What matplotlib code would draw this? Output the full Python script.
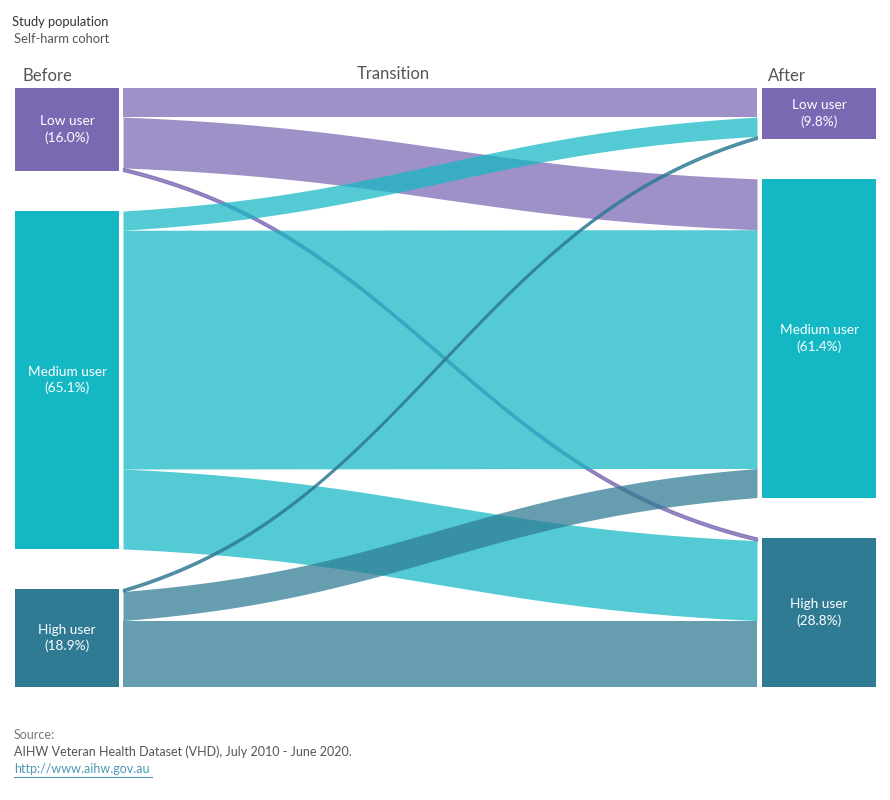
import numpy as np
import matplotlib.pyplot as plt

plt.rcParams['font.family'] = ['Lato', 'DejaVu Sans']

# data (percent of cohort)
groups = ['Low user', 'Medium user', 'High user']
before_pct = [16.0, 65.1, 18.9]
after_pct = [9.8, 61.4, 28.8]
# flows[i][j]: from before group i to after group j
flows = [[5.6, 9.8, 0.6],
         [3.7, 46.0, 15.4],
         [0.5, 5.6, 12.8]]

node_colors = ['#7b68b3', '#14b8c4', '#2e7b93']
alpha_flow = 0.73

# layout in pixels
W, H = 890, 800
top, bottom = 88, 687
gap = 40
px_per_pct = (bottom - top - 2 * gap) / 100.0
lx0, lx1 = 15, 119
fx0, fx1 = 123, 757
rx0, rx1 = 762, 876

fig = plt.figure(figsize=(W / 100, H / 100), dpi=100)
ax = fig.add_axes([0, 0, 1, 1])
ax.set_xlim(0, W)
ax.set_ylim(H, 0)
ax.axis('off')


def node_tops(pcts):
    tops = []
    y = top
    for p in pcts:
        tops.append(y)
        y += p * px_per_pct + gap
    return tops


ltops = node_tops(before_pct)
rtops = node_tops(after_pct)

# nodes
for i, g in enumerate(groups):
    h = before_pct[i] * px_per_pct
    ax.add_patch(plt.Rectangle((lx0, ltops[i]), lx1 - lx0, h, color=node_colors[i], lw=0))
    ax.text((lx0 + lx1) / 2, ltops[i] + h / 2, '%s\n(%.1f%%)' % (g, before_pct[i]),
            ha='center', va='center', color='white', fontsize=9.8, linespacing=1.4)
    h = after_pct[i] * px_per_pct
    ax.add_patch(plt.Rectangle((rx0, rtops[i]), rx1 - rx0, h, color=node_colors[i], lw=0))
    ax.text((rx0 + rx1) / 2, rtops[i] + h / 2, '%s\n(%.1f%%)' % (g, after_pct[i]),
            ha='center', va='center', color='white', fontsize=9.8, linespacing=1.4)

# flows
k = 5.0
t = np.linspace(0, 1, 300)
L = 1 / (1 + np.exp(-k * (t - 0.5)))
s = (L - L[0]) / (L[-1] - L[0])
xs = fx0 + (fx1 - fx0) * t

src_off = list(ltops)
dst_off = list(rtops)
bands = []
for i in range(3):
    for j in range(3):
        h = flows[i][j] * px_per_pct
        bands.append((i, src_off[i], dst_off[j], h))
        src_off[i] += h
        dst_off[j] += h

for i, y0, y1, h in bands:
    ytop = y0 + (y1 - y0) * s
    if h < 5:
        # thin links get a slight outline so they read like the original
        ax.fill_between(xs, ytop, ytop + h, facecolor=node_colors[i], edgecolor=node_colors[i],
                        alpha=alpha_flow + 0.05, lw=0.9)
    else:
        ax.fill_between(xs, ytop, ytop + h, color=node_colors[i], alpha=alpha_flow, lw=0)

# headers
ax.text(22, 76, 'Before', fontsize=12, color='#555555', va='center')
ax.text(393, 74, 'Transition', fontsize=12, color='#555555', va='center', ha='center')
ax.text(768, 76, 'After', fontsize=12, color='#555555', va='center')

ax.text(12, 22, 'Study population', fontsize=9.3, color='#333333', va='center')
ax.text(14, 39, 'Self-harm cohort', fontsize=9.3, color='#555555', va='center')

ax.text(14, 735, 'Source:', fontsize=9, color='#777777', va='center')
ax.text(14, 752, 'AIHW Veteran Health Dataset (VHD), July 2010 - June 2020.', fontsize=9,
        color='#555555', va='center')
ax.text(14, 769, 'http://www.aihw.gov.au', fontsize=9, color='#4a98b5', va='center')
ax.plot([14, 152], [777, 777], color='#4a98b5', lw=0.8)

fig.savefig('out.png', dpi=100)
